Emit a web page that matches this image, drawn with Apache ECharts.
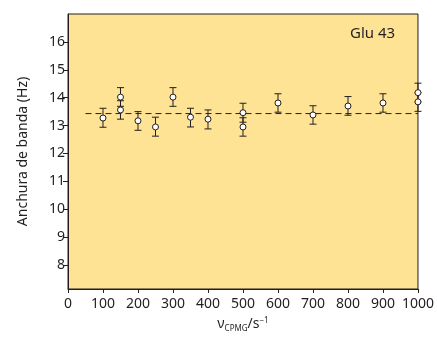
<!DOCTYPE html>
<html>
<head>
<meta charset="utf-8">
<script src="https://cdn.jsdelivr.net/npm/echarts@6/dist/echarts.min.js"></script>
<style>
html, body { margin: 0; padding: 0; background: #fff; }
#chart { width: 437px; height: 338px; }
</style>
</head>
<body>
<div id="chart"></div>
<script>
// ------------------ data ------------------
var nuCpmg = [100, 150, 150, 200, 250, 300, 350, 400, 500, 500, 600, 700, 800, 900, 1000, 1000];
var width = [13.27, 14.02, 13.56, 13.17, 12.95, 14.02, 13.30, 13.23, 13.46, 12.95, 13.81, 13.38, 13.70, 13.81, 14.18, 13.85];
var errLow = [12.94, 13.69, 13.23, 12.83, 12.62, 13.69, 12.95, 12.88, 13.12, 12.62, 13.48, 13.05, 13.37, 13.48, 13.85, 13.51];
var errHigh = [13.62, 14.36, 13.89, 13.50, 13.30, 14.36, 13.62, 13.56, 13.80, 13.28, 14.14, 13.71, 14.04, 14.14, 14.52, 14.18];
var meanX = [50, 1000];
var meanY = [13.43, 13.43];
var yTicks = [8, 9, 10, 11, 12, 13, 14, 15, 16];
var xTicks = [0, 100, 200, 300, 400, 500, 600, 700, 800, 900, 1000];

var FONT = 'Noto Sans';
var TXT = '#231f20';

var points = [];
var bars = [];
for (var i = 0; i < nuCpmg.length; i++) {
    points.push([nuCpmg[i], width[i]]);
    bars.push([nuCpmg[i], errLow[i], errHigh[i]]);
}
var meanLine = [];
for (var j = 0; j < meanX.length; j++) {
    meanLine.push([meanX[j], meanY[j]]);
}

var myChart = echarts.init(document.getElementById('chart'));
var option = {
    animation: false,
    grid: {
        left: 68, top: 14, right: 17, bottom: 48,
        show: true,
        backgroundColor: '#fee395',
        borderColor: '#231f20',
        borderWidth: 1
    },
    graphic: [{
        type: 'text',
        left: 350, top: 26,
        style: { text: 'Glu 43', fontFamily: FONT, fontSize: 15, fill: TXT }
    }],
    xAxis: {
        type: 'value',
        min: 0, max: 1000,
        axisLine: { show: true, lineStyle: { color: '#231f20', width: 1 } },
        axisTick: { show: true, length: 4, customValues: xTicks, lineStyle: { color: '#231f20' } },
        axisLabel: {
            customValues: xTicks, margin: 8, fontFamily: FONT, fontSize: 14, color: TXT,
            formatter: function (v) { return String(v); }
        },
        splitLine: { show: false },
        name: '{n|ν}{sub|CPMG}{n|/s}{sup|−1}',
        nameLocation: 'middle',
        nameGap: 27,
        nameTextStyle: {
            rich: {
                n: { fontFamily: FONT, fontSize: 14, color: TXT },
                sub: { fontFamily: FONT, fontSize: 8, color: TXT, padding: [9, 0, 0, 0] },
                sup: { fontFamily: FONT, fontSize: 8, color: TXT, padding: [0, 0, 7, 0] }
            }
        }
    },
    yAxis: {
        type: 'value',
        min: 7.14, max: 17,
        axisLine: { show: true, lineStyle: { color: '#231f20', width: 1 } },
        axisTick: { show: true, length: 5, customValues: yTicks, lineStyle: { color: '#231f20' } },
        axisLabel: { customValues: yTicks, margin: 3, fontFamily: FONT, fontSize: 14, color: TXT },
        splitLine: { show: false },
        name: 'Anchura de banda (Hz)',
        nameLocation: 'middle',
        nameGap: 38,
        nameTextStyle: { fontFamily: FONT, fontSize: 14, color: TXT }
    },
    series: [
        {
            type: 'line',
            data: meanLine,
            symbol: 'none',
            lineStyle: { color: '#231f20', width: 1, type: [6, 4] },
            z: 1
        },
        {
            type: 'custom',
            data: bars,
            z: 2,
            renderItem: function (params, api) {
                var x = api.value(0);
                var lo = api.coord([x, api.value(1)]);
                var hi = api.coord([x, api.value(2)]);
                var hw = 3.5;
                var st = { stroke: '#231f20', lineWidth: 1 };
                return {
                    type: 'group',
                    children: [
                        { type: 'line', shape: { x1: hi[0], y1: hi[1], x2: lo[0], y2: lo[1] }, style: st },
                        { type: 'line', shape: { x1: hi[0] - hw, y1: hi[1], x2: hi[0] + hw, y2: hi[1] }, style: st },
                        { type: 'line', shape: { x1: lo[0] - hw, y1: lo[1], x2: lo[0] + hw, y2: lo[1] }, style: st }
                    ]
                };
            }
        },
        {
            type: 'scatter',
            data: points,
            symbol: 'circle',
            symbolSize: 6,
            itemStyle: { color: '#ffffff', borderColor: '#231f20', borderWidth: 1, opacity: 1 },
            z: 3
        }
    ]
};
myChart.setOption(option);
</script>
</body>
</html>
